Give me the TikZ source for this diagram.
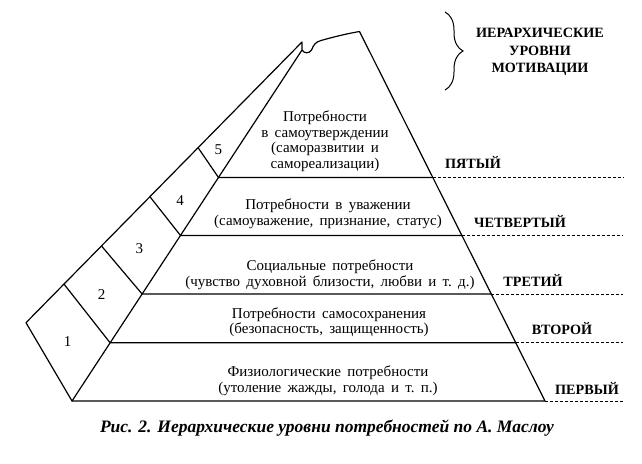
\documentclass[tikz,border=0pt]{standalone}
\usepackage{fontspec}
\setmainfont{Liberation Serif}
\usetikzlibrary{decorations.pathreplacing}
\newcommand\bodysz{\fontsize{15}{15.5}\selectfont\spaceskip=0.42em plus 0.1em minus 0.05em\relax}
\begin{document}
\begin{tikzpicture}[x=1pt,y=-1pt,
  edge/.style={line width=1.2pt, line join=round, line cap=round},
  dotline/.style={line width=0.9pt, dash pattern=on 3pt off 2pt},
  body/.style={font=\bodysz, align=center, inner sep=0pt},
  lvl/.style={font=\fontsize{14.2}{17.5}\selectfont\bfseries, align=center, inner sep=0pt},
  num/.style={font=\fontsize{15}{15}\selectfont, inner sep=0pt},
  capt/.style={font=\fontsize{17.5}{18}\selectfont\bfseries\itshape, inner sep=0pt}]
\useasboundingbox (0,0) rectangle (642,463);
% pyramid corners
\coordinate (BL) at (72,401);
\coordinate (BR) at (545,401);
\coordinate (TL) at (302,50);
\coordinate (TIP) at (302,42);
\coordinate (TR) at (359.5,31.5);
% level points
\coordinate (L1) at (110.1,342.8); \coordinate (R1) at (515.8,342.8); \coordinate (E1) at (623,342.8);
\coordinate (L2) at (142.1,294);   \coordinate (R2) at (491.3,294);   \coordinate (E2) at (623,294);
\coordinate (L3) at (180.5,235.5); \coordinate (R3) at (461.9,235.5); \coordinate (E3) at (623,235.5);
\coordinate (L4) at (218.5,177.5); \coordinate (R4) at (432.8,177.5); \coordinate (E4) at (623,177.5);
\coordinate (E0) at (623,401);
% strip points
\coordinate (P1) at (26,322.7);
\coordinate (A1) at (64.3,284.5);
\coordinate (A2) at (101.7,246.2);
\coordinate (A3) at (150,196.8);
\coordinate (A4) at (198.3,148);
% outlines
\draw[edge] (BL) -- (P1) -- (TIP) -- (TL) -- cycle;
\draw[edge] (TL) .. controls (304,53.5) and (309,54) .. (311.5,50)
  .. controls (313.5,45.5) and (315,42) .. (321,40.5)
  .. controls (335,36.5) and (348,33.5) .. (TR) -- (BR) -- (BL);
\draw[edge] (A1) -- (L1) -- (R1);
\draw[edge] (A2) -- (L2) -- (R2);
\draw[edge] (A3) -- (L3) -- (R3);
\draw[edge] (A4) -- (L4) -- (R4);
\draw[dotline] (R4) -- (E4);
\draw[dotline] (R3) -- (E3);
\draw[dotline] (R2) -- (E2);
\draw[dotline] (R1) -- (E1);
\draw[dotline] (BR) -- (E0);
% brace
\coordinate (brT) at (445,12);
\coordinate (brB) at (445,90);
\draw[line width=1pt, decorate, decoration={brace, amplitude=18pt}] (brT) -- (brB);
\node[lvl] (head) at (540,52) {ИЕРАРХИЧЕСКИЕ\\УРОВНИ\\МОТИВАЦИИ};
% texts in pyramid
\node[body] (t5) at (325,141) {Потребности\\в самоутверждении\\(саморазвитии и\\самореализации)};
\node[body] (t4) at (328,213.5) {Потребности в уважении\\(самоуважение, признание, статус)};
\node[body] (t3) at (330,274.5) {Социальные потребности\\(чувство духовной близости, любви и т.~д.)};
\node[body] (t2) at (329,322) {Потребности самосохранения\\(безопасность, защищенность)};
\node[body] (t1) at (328,380.5) {Физиологические потребности\\(утоление жажды, голода и т.~п.)};
% numbers
\node[num] (n5) at (218.3,150) {5};
\node[num] (n4) at (180,200.7) {4};
\node[num] (n3) at (139.3,248.3) {3};
\node[num] (n2) at (101.7,295) {2};
\node[num] (n1) at (67.7,341.7) {1};
% level names
\node[lvl] (v5) at (473,162.5) {ПЯТЫЙ};
\node[lvl] (v4) at (520,221) {ЧЕТВЕРТЫЙ};
\node[lvl] (v3) at (533,280) {ТРЕТИЙ};
\node[lvl] (v2) at (562,329) {ВТОРОЙ};
\node[lvl] (v1) at (587,388.3) {ПЕРВЫЙ};
% caption
\node[capt] (cap) at (327,428) {Рис. 2. Иерархические уровни потребностей по А. Маслоу};
\end{tikzpicture}
\end{document}
